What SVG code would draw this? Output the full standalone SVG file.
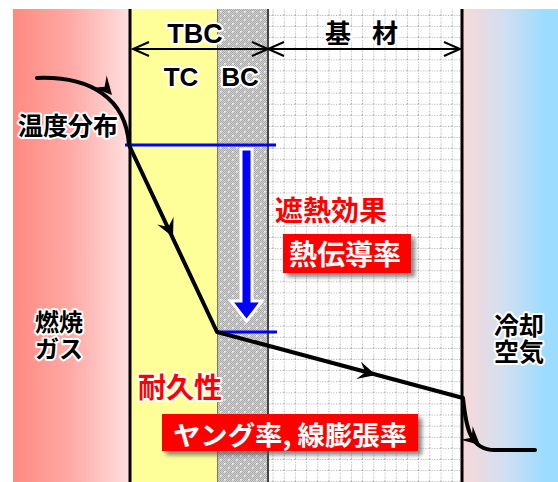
<svg xmlns="http://www.w3.org/2000/svg" width="558" height="482" viewBox="0 0 558 482">
<defs>
<linearGradient id="gLeft" x1="13" y1="0" x2="130" y2="0" gradientUnits="userSpaceOnUse">
<stop offset="0" stop-color="#ff8a80"/>
<stop offset="0.5" stop-color="#ffaaa6"/>
<stop offset="1" stop-color="#ffe0e0"/>
</linearGradient>
<linearGradient id="gRight" x1="462" y1="0" x2="545" y2="0" gradientUnits="userSpaceOnUse">
<stop offset="0" stop-color="#fad8d8"/>
<stop offset="0.5" stop-color="#d2dff0"/>
<stop offset="1" stop-color="#9cdcff"/>
</linearGradient>
<pattern id="pChecker" width="2" height="2" patternUnits="userSpaceOnUse">
<rect width="2" height="2" fill="#d4d4d4"/>
<rect width="1" height="1" fill="#a6a6a6"/>
<rect x="1" y="1" width="1" height="1" fill="#a6a6a6"/>
</pattern>
<pattern id="pDots" x="219" y="10" width="8" height="8" patternUnits="userSpaceOnUse">
<rect x="1" y="1" width="1.5" height="1.5" fill="#ffffff"/>
<rect x="5" y="5" width="1.5" height="1.5" fill="#ffffff"/>
</pattern>
<pattern id="pGrid" x="272.5" y="15" width="11.2" height="11.1" patternUnits="userSpaceOnUse">
<line x1="0.5" y1="0" x2="0.5" y2="11.1" stroke="#a8a8a8" stroke-width="1" stroke-dasharray="1,1.5"/>
<line x1="0" y1="0.5" x2="11.2" y2="0.5" stroke="#a8a8a8" stroke-width="1" stroke-dasharray="1,1.5"/>
</pattern>
<filter id="shadow" x="-10%" y="-20%" width="130%" height="160%">
<feDropShadow dx="4" dy="4" stdDeviation="2" flood-color="#555" flood-opacity="0.7"/>
</filter>
<path id="stealth" d="M0,0 L-18,-9 L-11,0 L-18,9 Z"/>
</defs>
<style>
.jp{font-family:"Noto Sans CJK JP","Liberation Sans",sans-serif;font-weight:bold;}
.lat{font-family:"Liberation Sans","Noto Sans CJK JP",sans-serif;font-weight:bold;}
.halo{stroke:#ffffff;stroke-width:4;stroke-linejoin:round;paint-order:stroke;}
.blk{fill:#000000;}
.red{fill:#ff0000;}
.wht{fill:#ffffff;}
.curve{fill:none;stroke:#000000;stroke-width:4;stroke-linejoin:round;stroke-linecap:round;}
.dim{fill:none;stroke:#000000;stroke-width:2;}
.blueline{stroke:#0000ff;stroke-width:3;}
</style>

<g id="regions">
<rect x="13" y="9" width="117" height="473" fill="url(#gLeft)"/>
<rect x="130" y="9" width="87" height="473" fill="#ffff99"/>
<rect x="217" y="9" width="51" height="473" fill="url(#pChecker)"/>
<rect x="217" y="9" width="51" height="473" fill="url(#pDots)"/>
<rect x="268" y="9" width="194" height="473" fill="#ffffff"/>
<rect x="268" y="9" width="194" height="473" fill="url(#pGrid)"/>
<rect x="462" y="9" width="96" height="473" fill="url(#gRight)"/>
<line x1="217.5" y1="9" x2="217.5" y2="482" stroke="#777" stroke-width="1"/>
<line x1="268" y1="9" x2="268" y2="482" stroke="#444" stroke-width="2"/>
<line x1="130" y1="9" x2="130" y2="482" stroke="#000" stroke-width="3"/>
<line x1="462" y1="9" x2="462" y2="482" stroke="#000" stroke-width="3"/>
</g>

<g id="dimensions">
<line class="dim" x1="133" y1="49" x2="268" y2="49"/>
<polyline class="dim" points="149,42 133,49 149,56"/>
<polyline class="dim" points="252,42 268,49 252,56"/>
<line class="dim" x1="268" y1="49" x2="460" y2="49"/>
<polyline class="dim" points="284,42 268,49 284,56"/>
<polyline class="dim" points="444,42 460,49 444,56"/>
</g>

<g id="labels-top">
<text class="lat blk halo" x="195" y="43" font-size="27" text-anchor="middle">TBC</text>
<text class="lat blk halo" x="181" y="86" font-size="26" text-anchor="middle">TC</text>
<text class="lat blk halo" x="240" y="86" font-size="26" text-anchor="middle">BC</text>
<text class="jp blk halo" x="325" y="43" font-size="26" textLength="73" lengthAdjust="spacing">基 材</text>
</g>

<g id="blue-marks">
<line class="blueline" x1="125" y1="145" x2="276" y2="145"/>
<line class="blueline" x1="217" y1="332" x2="277" y2="332"/>
<path d="M241,149 L252,149 L252,301 L262,301 L246.5,321 L231,301 L241,301 Z" fill="#0000ff" stroke="#ffffff" stroke-width="3" stroke-linejoin="miter"/>
</g>

<g id="connectors">
<path class="curve" d="M37,78 C90,76 126,98 129,145 L217,332 L463,398 C466,428 470,450 495,450 L535,450"/>
<use href="#stealth" transform="translate(112,95) rotate(48)"/>
<use href="#stealth" transform="translate(173,237) rotate(65)"/>
<use href="#stealth" transform="translate(376,375) rotate(15)"/>
<use href="#stealth" transform="translate(480,445) rotate(42)"/>
</g>

<g id="temp-label">
<text class="jp blk halo" x="18" y="135" font-size="25">温度分布</text>
</g>

<g id="gas">
<text class="jp blk halo" font-size="24"><tspan x="35" y="331">燃焼</tspan><tspan x="35" y="358">ガス</tspan></text>
</g>

<g id="air">
<text class="jp blk halo" font-size="25" text-anchor="middle"><tspan x="519" y="335">冷却</tspan><tspan x="519" y="361">空気</tspan></text>
</g>

<g id="thermal">
<text class="jp red halo" x="275" y="221" font-size="28">遮熱効果</text>
<rect x="283" y="234" width="128" height="39" fill="#ff0000" filter="url(#shadow)"/>
<text class="jp wht" x="289" y="265" font-size="28">熱伝導率</text>
</g>

<g id="durability">
<text class="jp red halo" x="138" y="398" font-size="28">耐久性</text>
<rect x="162" y="414" width="256" height="37" fill="#ff0000" filter="url(#shadow)"/>
<text class="jp wht" x="173" y="445" font-size="26" textLength="234" lengthAdjust="spacingAndGlyphs">ヤング率, 線膨張率</text>
</g>
</svg>
